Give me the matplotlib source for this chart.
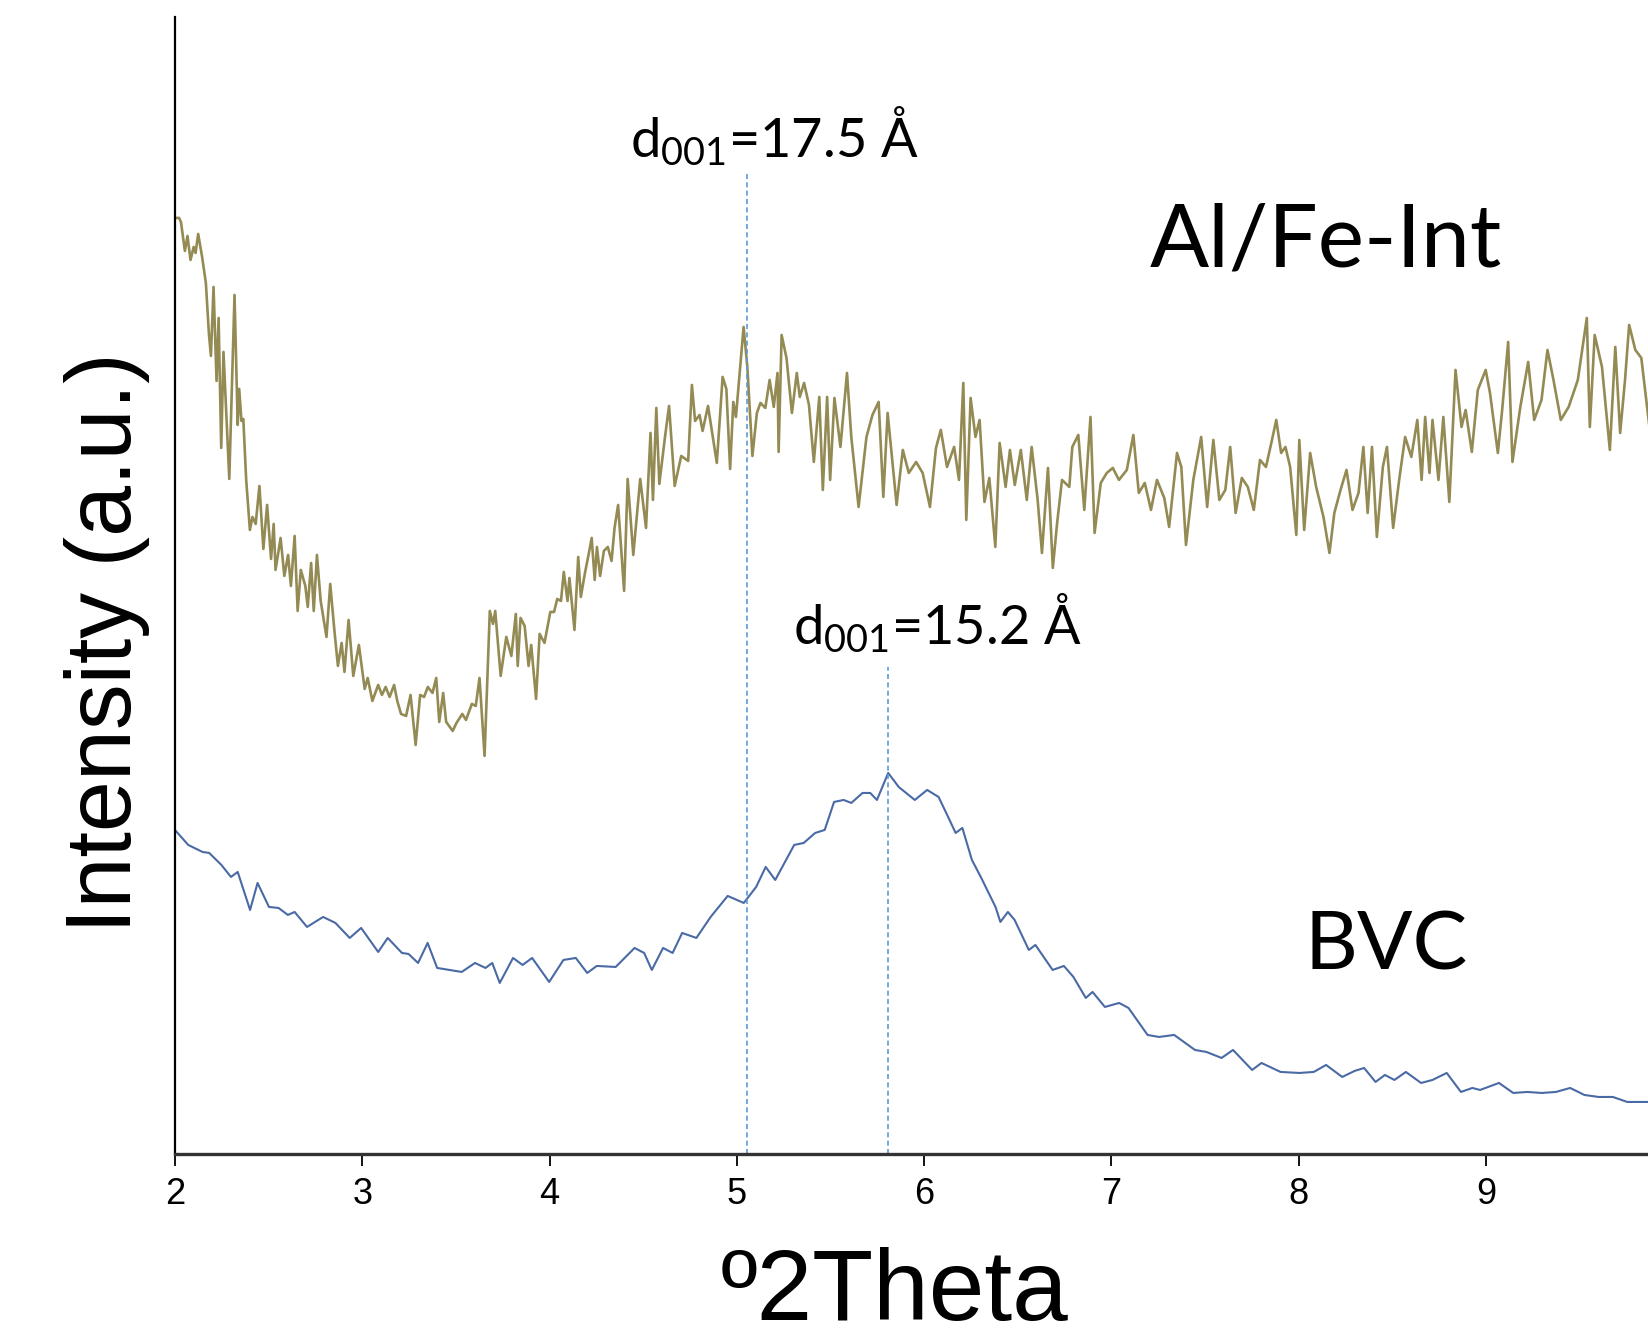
import matplotlib
matplotlib.use("Agg")
import matplotlib.pyplot as plt

plt.rcParams['mathtext.fontset'] = 'custom'
plt.rcParams['mathtext.rm'] = 'Lato'

# Al/Fe intercalated sample (2theta, intensity a.u.)
alfe_2theta = [2.000, 2.022, 2.032, 2.053, 2.067, 2.083, 2.100, 2.110, 2.124, 2.145,
               2.165, 2.181, 2.192, 2.206, 2.222, 2.233, 2.247, 2.259, 2.290, 2.318,
               2.335, 2.343, 2.355, 2.365, 2.380, 2.400, 2.414, 2.431, 2.451, 2.472,
               2.492, 2.513, 2.527, 2.537, 2.564, 2.584, 2.604, 2.619, 2.639, 2.655,
               2.672, 2.696, 2.709, 2.727, 2.741, 2.758, 2.778, 2.809, 2.829, 2.850,
               2.870, 2.890, 2.905, 2.927, 2.952, 2.982, 3.013, 3.029, 3.054, 3.085,
               3.105, 3.125, 3.146, 3.170, 3.187, 3.207, 3.234, 3.258, 3.285, 3.309,
               3.330, 3.350, 3.375, 3.395, 3.411, 3.432, 3.448, 3.483, 3.503, 3.534,
               3.554, 3.585, 3.606, 3.626, 3.653, 3.681, 3.698, 3.710, 3.739, 3.769,
               3.796, 3.820, 3.830, 3.845, 3.867, 3.888, 3.902, 3.928, 3.947, 3.973,
               4.004, 4.024, 4.041, 4.061, 4.076, 4.096, 4.106, 4.133, 4.153, 4.167,
               4.188, 4.208, 4.225, 4.241, 4.253, 4.270, 4.290, 4.311, 4.331, 4.347,
               4.366, 4.398, 4.417, 4.447, 4.484, 4.515, 4.539, 4.552, 4.570, 4.586,
               4.617, 4.638, 4.668, 4.703, 4.740, 4.760, 4.777, 4.801, 4.817, 4.846,
               4.893, 4.924, 4.944, 4.964, 4.981, 4.995, 5.036, 5.056, 5.083, 5.107,
               5.126, 5.152, 5.175, 5.197, 5.217, 5.223, 5.239, 5.265, 5.294, 5.320,
               5.336, 5.359, 5.385, 5.411, 5.440, 5.459, 5.482, 5.498, 5.521, 5.553,
               5.588, 5.611, 5.650, 5.692, 5.724, 5.757, 5.782, 5.805, 5.853, 5.886,
               5.918, 5.957, 5.992, 6.031, 6.063, 6.089, 6.122, 6.160, 6.186, 6.209,
               6.225, 6.248, 6.274, 6.296, 6.322, 6.348, 6.380, 6.403, 6.435, 6.458,
               6.484, 6.516, 6.548, 6.574, 6.606, 6.629, 6.661, 6.687, 6.710, 6.736,
               6.775, 6.791, 6.823, 6.855, 6.888, 6.910, 6.943, 6.975, 7.007, 7.040,
               7.082, 7.117, 7.146, 7.178, 7.211, 7.243, 7.282, 7.308, 7.350, 7.373,
               7.398, 7.437, 7.479, 7.511, 7.544, 7.576, 7.608, 7.634, 7.663, 7.696,
               7.728, 7.760, 7.793, 7.825, 7.857, 7.880, 7.906, 7.929, 7.954, 7.987,
               8.003, 8.029, 8.061, 8.093, 8.132, 8.164, 8.190, 8.223, 8.255, 8.287,
               8.319, 8.345, 8.368, 8.391, 8.417, 8.449, 8.471, 8.504, 8.536, 8.568,
               8.601, 8.633, 8.656, 8.675, 8.698, 8.714, 8.746, 8.772, 8.804, 8.837,
               8.869, 8.891, 8.924, 8.956, 8.998, 9.021, 9.063, 9.086, 9.118, 9.141,
               9.183, 9.225, 9.257, 9.296, 9.328, 9.360, 9.399, 9.441, 9.490, 9.538,
               9.554, 9.580, 9.619, 9.661, 9.690, 9.716, 9.742, 9.764, 9.797, 9.829,
               9.871]
alfe_int = [936, 936, 932, 903, 918, 894, 907, 901, 920, 897,
            871, 821, 798, 867, 773, 836, 706, 802, 675, 859,
            729, 765, 733, 735, 675, 624, 637, 630, 668, 605,
            649, 595, 630, 584, 616, 578, 599, 568, 618, 543,
            584, 568, 547, 591, 543, 599, 553, 517, 570, 526,
            488, 511, 482, 534, 478, 509, 465, 476, 453, 469,
            459, 467, 457, 469, 453, 440, 438, 459, 409, 459,
            457, 467, 461, 476, 432, 461, 432, 423, 431, 440,
            434, 450, 448, 476, 398, 543, 530, 543, 478, 517,
            498, 540, 488, 536, 528, 488, 509, 455, 520, 511,
            542, 542, 555, 553, 582, 553, 576, 524, 597, 557,
            580, 599, 616, 574, 607, 578, 603, 607, 593, 626,
            649, 563, 675, 599, 675, 626, 721, 654, 746, 670,
            718, 748, 668, 698, 693, 769, 733, 739, 723, 748,
            691, 777, 765, 685, 752, 737, 827, 787, 698, 741,
            751, 746, 774, 747, 781, 702, 819, 796, 741, 781,
            757, 771, 749, 692, 757, 664, 757, 674, 756, 707,
            781, 717, 647, 717, 739, 752, 657, 741, 649, 704,
            681, 692, 681, 647, 706, 724, 687, 707, 674, 771,
            634, 756, 717, 734, 652, 676, 607, 711, 667, 704,
            669, 704, 654, 707, 654, 601, 686, 586, 631, 674,
            667, 707, 719, 644, 737, 621, 671, 681, 686, 674,
            684, 719, 661, 671, 644, 674, 656, 627, 701, 687,
            609, 674, 717, 647, 714, 654, 664, 707, 641, 676,
            667, 644, 694, 687, 714, 734, 701, 707, 687, 619,
            714, 624, 701, 667, 637, 601, 641, 664, 684, 644,
            661, 707, 641, 707, 617, 687, 707, 626, 674, 717,
            697, 734, 674, 737, 681, 734, 674, 737, 652, 784,
            727, 744, 702, 764, 784, 761, 701, 744, 812, 692,
            747, 792, 734, 754, 804, 774, 734, 747, 774, 836,
            727, 819, 787, 704, 807, 721, 774, 829, 804, 796,
            729]

# untreated BVC sample
bvc_2theta = [2.000, 2.071, 2.147, 2.183, 2.248, 2.299, 2.335, 2.401, 2.441, 2.502,
              2.553, 2.603, 2.639, 2.705, 2.791, 2.857, 2.933, 2.994, 3.085, 3.136,
              3.212, 3.247, 3.298, 3.349, 3.400, 3.466, 3.531, 3.602, 3.658, 3.694,
              3.734, 3.805, 3.856, 3.907, 3.998, 4.074, 4.140, 4.201, 4.252, 4.353,
              4.454, 4.505, 4.546, 4.606, 4.657, 4.708, 4.784, 4.860, 4.951, 5.037,
              5.103, 5.154, 5.205, 5.306, 5.357, 5.418, 5.469, 5.519, 5.570, 5.611,
              5.671, 5.712, 5.748, 5.808, 5.864, 5.950, 6.016, 6.077, 6.128, 6.168,
              6.204, 6.255, 6.305, 6.381, 6.407, 6.447, 6.483, 6.559, 6.594, 6.686,
              6.746, 6.797, 6.863, 6.899, 6.965, 7.041, 7.091, 7.193, 7.254, 7.335,
              7.446, 7.507, 7.588, 7.649, 7.751, 7.801, 7.903, 8.004, 8.080, 8.146,
              8.232, 8.298, 8.349, 8.410, 8.460, 8.511, 8.572, 8.653, 8.714, 8.790,
              8.866, 8.927, 8.968, 9.069, 9.145, 9.221, 9.297, 9.373, 9.449, 9.525,
              9.601, 9.677, 9.754, 9.870]
bvc_int = [324, 309, 302, 301, 289, 277, 282, 244, 271, 247,
           246, 239, 242, 227, 237, 231, 216, 226, 202, 216,
           201, 200, 191, 211, 186, 184, 182, 191, 186, 191,
           171, 196, 189, 196, 172, 194, 196, 181, 188, 187,
           206, 201, 184, 206, 201, 221, 216, 237, 258, 251,
           267, 287, 274, 309, 311, 321, 324, 352, 354, 351,
           361, 361, 354, 381, 367, 354, 364, 357, 337, 321,
           326, 294, 276, 247, 232, 242, 234, 204, 209, 184,
           188, 177, 156, 162, 147, 151, 146, 119, 117, 119,
           104, 102, 96, 104, 84, 91, 82, 81, 82, 89,
           77, 83, 86, 72, 79, 74, 82, 71, 74, 81,
           62, 66, 64, 71, 61, 62, 61, 62, 66, 59,
           57, 57, 52, 52]

peak_pos = [5.054, 5.807]
peak_top = [981, 487]
peak_labels = ["17.5", "15.2"]
label_pos = [(4.43, 996), (5.30, 509)]

fig = plt.figure(figsize=(16.49, 13.44), dpi=100)
ax = fig.add_axes([0.1061, 0.1414, 0.8939, 0.846])

ax.plot(alfe_2theta, alfe_int, color='#948a54', lw=1.9)
ax.plot(bvc_2theta, bvc_int, color='#4a6aa5', lw=1.5)

for xp, yt in zip(peak_pos, peak_top):
    ax.plot([xp, xp], [0, yt], color='#5b9bd5', lw=1.2, dashes=(3, 2))

for lab, (lx, ly) in zip(peak_labels, label_pos):
    ax.text(lx, ly, r'$\mathregular{d_{001}}$=' + lab + ' Å', fontsize=39,
            family='Lato', ha='left', va='baseline')

ax.text(7.206, 887, 'Al/Fe-Int', fontsize=63, family='Lato', ha='left', va='baseline')
ax.text(8.03, 184, 'BVC', fontsize=59, family='Lato', ha='left', va='baseline')

ax.set_xlim(2, 9.87)
ax.set_ylim(0, 1137)
ax.set_xticks([2, 3, 4, 5, 6, 7, 8, 9])
ax.set_yticks([])
ax.spines['top'].set_visible(False)
ax.spines['right'].set_visible(False)
ax.spines['left'].set_linewidth(1.6)
ax.spines['bottom'].set_linewidth(2.4)
ax.spines['bottom'].set_color('#333333')
ax.tick_params(axis='x', direction='out', length=8.6, width=1.3, pad=8)
for t in ax.get_xticklabels():
    t.set_family(['Liberation Sans Narrow', 'Liberation Sans'])
    t.set_fontsize(26)

fig.text(0.5427, 0.002, 'º2Theta', fontsize=72, family='Liberation Sans',
         ha='center', va='bottom')
fig.text(0.0649, 0.522, 'Intensity (a.u.)', fontsize=66, family='Liberation Sans',
         rotation=90, ha='center', va='center')

fig.savefig('out.png', dpi=100)
